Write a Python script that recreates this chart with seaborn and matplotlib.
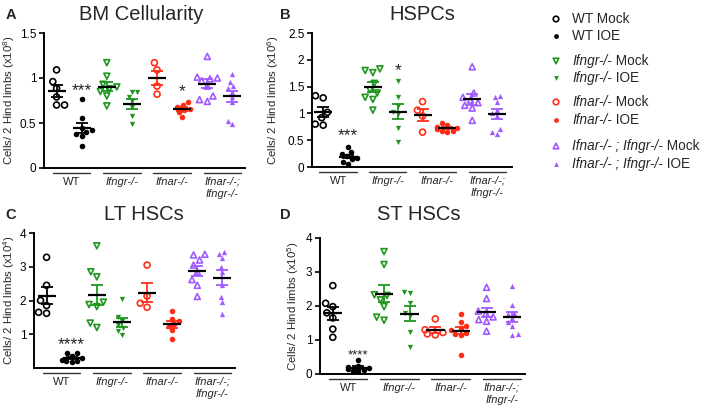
import pandas as pd
import matplotlib
matplotlib.use("Agg")
import matplotlib.pyplot as plt
import matplotlib.transforms as mtransforms
import seaborn as sns

groups = ["WT Mock", "WT IOE", "Ifngr Mock", "Ifngr IOE",
          "Ifnar Mock", "Ifnar IOE", "DKO Mock", "DKO IOE"]
group_labels = ["WT", "Ifngr-/-", "Ifnar-/-", "Ifnar-/-;\nIfngr-/-"]

# A - BM cellularity (x10^8)
bm_wt_mock = [1.09, 0.96, 0.885, 0.79, 0.70, 0.70]
bm_wt_ioe = [0.77, 0.56, 0.44, 0.42, 0.40, 0.38, 0.36, 0.25]
bm_ifngr_mock = [1.17, 1.02, 0.93, 0.90, 0.88, 0.85, 0.80, 0.69]
bm_ifngr_ioe = [0.85, 0.85, 0.79, 0.74, 0.68, 0.58, 0.49]
bm_ifnar_mock = [1.17, 1.09, 0.91, 0.82]
bm_ifnar_ioe = [0.73, 0.70, 0.68, 0.66, 0.64, 0.62, 0.57]
bm_dko_mock = [1.24, 1.01, 1.0, 0.99, 0.97, 0.91, 0.80, 0.76, 0.74]
bm_dko_ioe = [1.04, 0.96, 0.91, 0.885, 0.85, 0.79, 0.73, 0.52, 0.485]

# B - HSPCs (x10^6)
hspc_wt_mock = [1.33, 1.29, 1.02, 0.92, 0.80, 0.78]
hspc_wt_ioe = [0.37, 0.28, 0.24, 0.20, 0.17, 0.14, 0.10, 0.06]
hspc_ifngr_mock = [1.83, 1.80, 1.76, 1.56, 1.44, 1.38, 1.30, 1.26, 1.06]
hspc_ifngr_ioe = [1.61, 1.31, 1.13, 1.03, 0.98, 0.72, 0.46]
hspc_ifnar_mock = [1.22, 1.06, 0.95, 0.65]
hspc_ifnar_ioe = [0.82, 0.78, 0.75, 0.72, 0.70, 0.68, 0.67, 0.66]
hspc_dko_mock = [1.87, 1.38, 1.30, 1.25, 1.20, 1.15, 1.10, 0.87]
hspc_dko_ioe = [1.33, 1.31, 1.22, 1.07, 1.0, 0.95, 0.70, 0.65, 0.62]

# C - LT HSCs (x10^4)
lt_wt_mock = [3.28, 2.45, 2.0, 1.85, 1.65, 1.62]
lt_wt_ioe = [0.45, 0.43, 0.35, 0.30, 0.25, 0.22, 0.20, 0.18]
lt_ifngr_mock = [3.62, 2.85, 2.7, 1.95, 1.88, 1.82, 1.33, 1.2]
lt_ifngr_ioe = [2.03, 1.50, 1.40, 1.28, 1.20, 1.10, 0.98]
lt_ifnar_mock = [3.05, 2.13, 1.92, 1.80]
lt_ifnar_ioe = [1.69, 1.45, 1.38, 1.30, 1.25, 1.12, 0.85]
lt_dko_mock = [3.37, 3.35, 3.2, 3.05, 2.85, 2.62, 2.45, 2.12]
lt_dko_ioe = [3.45, 3.38, 3.25, 3.0, 2.85, 2.45, 2.1, 1.95, 1.6]

# D - ST HSCs (x10^5)
st_wt_mock = [2.6, 2.08, 1.98, 1.80, 1.65, 1.32, 1.08]
st_wt_ioe = [0.42, 0.25, 0.22, 0.18, 0.15, 0.12, 0.10, 0.08]
st_ifngr_mock = [3.6, 3.22, 2.33, 2.31, 2.18, 1.98, 1.67, 1.58]
st_ifngr_ioe = [2.4, 2.38, 2.08, 1.80, 1.70, 1.25, 0.78]
st_ifnar_mock = [1.62, 1.30, 1.22, 1.18, 1.15]
st_ifnar_ioe = [1.76, 1.53, 1.40, 1.35, 1.28, 1.22, 1.18, 1.15, 0.57]
st_dko_mock = [2.55, 2.22, 1.85, 1.78, 1.68, 1.60, 1.55, 1.26]
st_dko_ioe = [2.58, 2.04, 1.80, 1.76, 1.65, 1.52, 1.42, 1.18, 1.16]

GREEN = "#1e961e"
RED = "#ff2d17"
PURPLE = "#a05aff"
colors = ["black", "black", GREEN, GREEN, RED, RED, PURPLE, PURPLE]
markers = ["o", "o", "v", "v", "o", "o", "^", "^"]
hollow = [True, False, True, False, True, False, True, False]
sizes = [4.3, 4.0, 4.3, 3.8, 4.3, 4.0, 4.3, 3.8]

sns.set_style("ticks")
plt.rcParams["font.family"] = ["Liberation Sans", "DejaVu Sans"]
plt.rcParams["mathtext.default"] = "regular"

fig = plt.figure(figsize=(7.05, 4.13), dpi=100)

panels = [
    dict(vals=[bm_wt_mock, bm_wt_ioe, bm_ifngr_mock, bm_ifngr_ioe,
               bm_ifnar_mock, bm_ifnar_ioe, bm_dko_mock, bm_dko_ioe],
         rect=[44 / 705, 1 - 168 / 413, 201 / 705, 135 / 413], xlim=(-0.5, 7.5),
         ylim=(0, 1.5), yticks=[0, 0.5, 1, 1.5], ytl=["0", "0.5", "1", "1.5"], exp=8,
         title="BM Cellularity", tx=141, ty=15, letter="A", lx=11, ylx=-0.174,
         stars=[(1, "***", 0.86, 12.5), (5, "*", 0.85, 12.5)]),
    dict(vals=[hspc_wt_mock, hspc_wt_ioe, hspc_ifngr_mock, hspc_ifngr_ioe,
               hspc_ifnar_mock, hspc_ifnar_ioe, hspc_dko_mock, hspc_dko_ioe],
         rect=[312 / 705, 1 - 167 / 413, 200 / 705, 134 / 413], xlim=(-0.45, 7.6),
         ylim=(0, 2.5), yticks=[0, 0.5, 1, 1.5, 2, 2.5],
         ytl=["0", "0.5", "1", "1.5", "2", "2.5"], exp=6,
         title="HSPCs", tx=422, ty=15, letter="B", lx=285, ylx=-0.195,
         stars=[(1, "***", 0.58, 12.5), (3, "*", 1.8, 12.5)]),
    dict(vals=[lt_wt_mock, lt_wt_ioe, lt_ifngr_mock, lt_ifngr_ioe,
               lt_ifnar_mock, lt_ifnar_ioe, lt_dko_mock, lt_dko_ioe],
         rect=[34 / 705, 1 - 368 / 413, 201 / 705, 135 / 413], xlim=(-0.5, 7.5),
         ylim=(0, 4), yticks=[1, 2, 3, 4], ytl=["1", "2", "3", "4"], exp=4,
         title="LT HSCs", tx=144, ty=215, letter="C", lx=10.5, ylx=-0.124,
         stars=[(1, "****", 0.68, 12.5)]),
    dict(vals=[st_wt_mock, st_wt_ioe, st_ifngr_mock, st_ifngr_ioe,
               st_ifnar_mock, st_ifnar_ioe, st_dko_mock, st_dko_ioe],
         rect=[320 / 705, 1 - 374 / 413, 205 / 705, 136 / 413], xlim=(-0.5, 7.5),
         ylim=(0, 4), yticks=[0, 1, 2, 3, 4], ytl=["0", "1", "2", "3", "4"], exp=5,
         title="ST HSCs", tx=419, ty=215, letter="D", lx=285, ylx=-0.132,
         stars=[(1, "****", 0.55, 9.5)]),
]

for p in panels:
    ax = fig.add_axes(p["rect"])
    rows = [(g, v) for g, vs in zip(groups, p["vals"]) for v in vs]
    df = pd.DataFrame(rows, columns=["group", "value"])

    for i, g in enumerate(groups):
        n0 = len(ax.collections)
        sns.swarmplot(data=df[df["group"] == g], x="group", y="value", order=groups,
                      marker=markers[i], color=colors[i], size=sizes[i],
                      linewidth=0, ax=ax, zorder=3)
        if hollow[i]:
            for coll in ax.collections[n0:]:
                coll.set_facecolor("none")
                coll.set_edgecolor(colors[i])
                coll.set_linewidth(1.2)

    stats = df.groupby("group")["value"].agg(["mean", "sem"]).reindex(groups)
    for i, g in enumerate(groups):
        m, s = stats.loc[g, "mean"], stats.loc[g, "sem"]
        ax.errorbar(i, m, yerr=s, fmt="none", ecolor=colors[i], elinewidth=1.3,
                    capsize=4, capthick=1.3, zorder=4)
        ax.hlines(m, i - 0.36, i + 0.36, color="black", lw=1.6, zorder=5)

    for i, txt, y, fs in p["stars"]:
        ax.text(i, y, txt, ha="center", va="center", fontsize=fs, color="#222222")

    ax.set_xlim(*p["xlim"])
    ax.set_ylim(*p["ylim"])
    ax.set_yticks(p["yticks"])
    ax.set_yticklabels(p["ytl"], fontsize=8.5)
    ax.set_xticks([])
    ax.set_xlabel("")
    ax.set_ylabel("Cells/ 2 Hind limbs (x10$^{%d}$)" % p["exp"], fontsize=8.2,
                  va="center")
    ax.yaxis.set_label_coords(p["ylx"], 0.5)
    ax.tick_params(axis="y", length=3.5, width=1.2, pad=2, colors="black")
    sns.despine(ax=ax)
    for sp in ["left", "bottom"]:
        ax.spines[sp].set_linewidth(1.4)
        ax.spines[sp].set_color("black")

    trans = mtransforms.blended_transform_factory(ax.transData, ax.transAxes)
    for k, lab in enumerate(group_labels):
        a = 2 * k
        ax.plot([a - 0.15, a + 1.35], [-0.035, -0.035], transform=trans,
                clip_on=False, color="#333333", lw=1)
        ax.text(a + 0.6, -0.065, lab, transform=trans, ha="center", va="top",
                fontsize=8, style="normal" if k == 0 else "italic",
                linespacing=1.25)

    fig.text(p["tx"] / 705, 1 - p["ty"] / 413, p["title"], ha="center", va="center",
             fontsize=14.5)
    fig.text(p["lx"] / 705, 1 - p["ty"] / 413, p["letter"], ha="center", va="center",
             fontsize=10.5, fontweight="bold")

# legend drawn by hand so genotype names can be italic
lax = fig.add_axes([0, 0, 1, 1])
lax.set_xlim(0, 705)
lax.set_ylim(413, 0)
lax.axis("off")
legend_rows = [19, 36, 61, 78, 102, 120, 146, 164]
legend_italic = ["", "", "Ifngr-/-", "Ifngr-/-", "Ifnar-/-", "Ifnar-/-",
                 "Ifnar-/- ; Ifngr-/-", "Ifnar-/- ; Ifngr-/-"]
legend_plain = ["WT Mock", "WT IOE", " Mock", " IOE", " Mock", " IOE", " Mock", " IOE"]
for i, y in enumerate(legend_rows):
    if hollow[i]:
        lax.scatter([556], [y], marker=markers[i], s=16, facecolors="none",
                    edgecolors=colors[i], linewidths=1.2)
    else:
        lax.scatter([556], [y], marker=markers[i], s=12, color=colors[i], linewidths=0)
    if legend_italic[i]:
        t = lax.text(572, y, legend_italic[i], style="italic", fontsize=9.8, va="center")
        lax.annotate(legend_plain[i], xy=(1, 0.5), xycoords=t, va="center",
                     ha="left", fontsize=9.8)
    else:
        lax.text(572, y, legend_plain[i], fontsize=9.8, va="center")

fig.savefig("out.png", dpi=100)
